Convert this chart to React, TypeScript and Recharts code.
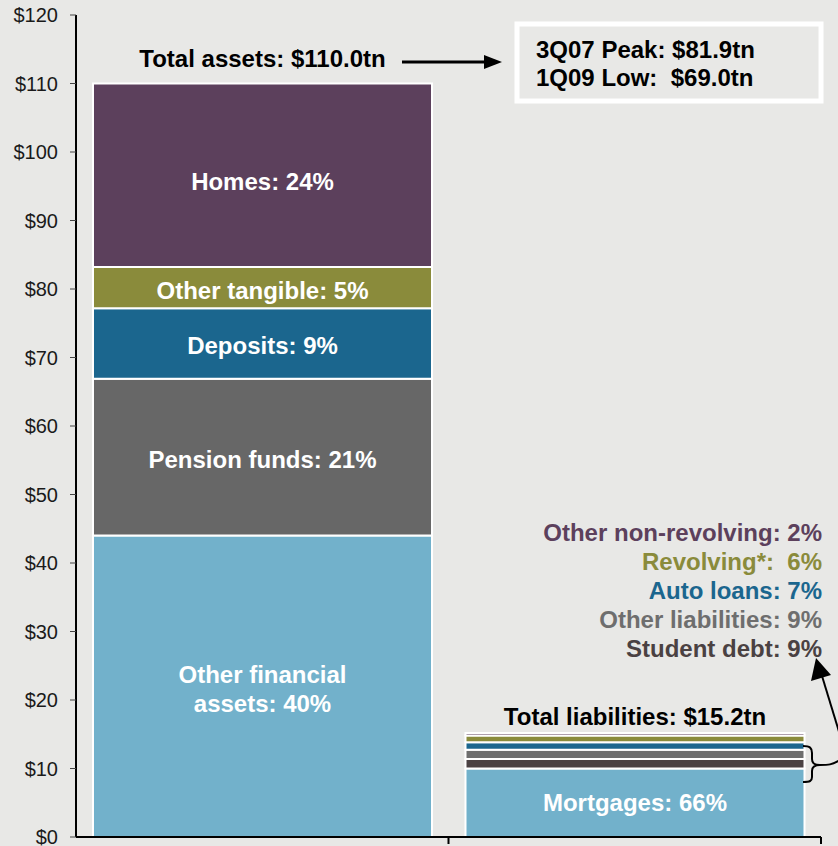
import React from "react";
import { BarChart, Bar, XAxis, YAxis, LabelList } from "recharts";

const categories = ["Assets", "Liabilities"];

const assetKeys = ["otherFinancial", "pension", "deposits", "otherTangible", "homes"];
const assetValues = [44.0, 22.9, 10.3, 6.0, 26.8];
const assetLabels = [
  "Other financial\nassets: 40%",
  "Pension funds: 21%",
  "Deposits: 9%",
  "Other tangible: 5%",
  "Homes: 24%",
];
const assetColors = ["#72b1cb", "#676767", "#1b668e", "#8a8b3b", "#5c405c"];

const liabilityKeys = [
  "mortgages",
  "studentDebt",
  "otherLiabilities",
  "autoLoans",
  "revolving",
  "otherNonRevolving",
];
const liabilityValues = [10.0, 1.4, 1.35, 1.1, 0.95, 0.4];
const liabilityLabels = [
  "Mortgages: 66%",
  "Student debt: 9%",
  "Other liabilities: 9%",
  "Auto loans: 7%",
  "Revolving*:  6%",
  "Other non-revolving: 2%",
];
const liabilityColors = ["#72b1cb", "#4a4142", "#6e6e6e", "#1b668e", "#8a8b3b", "#5c405c"];

const totalLabels = ["Total assets: $110.0tn", "Total liabilities: $15.2tn"];
const yTicks = [0, 10, 20, 30, 40, 50, 60, 70, 80, 90, 100, 110, 120];
const peakLines = ["3Q07 Peak: $81.9tn", "1Q09 Low:  $69.0tn"];

const W = 838;
const H = 846;
const M = { top: 15, right: 17, left: 0, bottom: 0 };
const Y_W = 76;
const X_H = 9;
const BAND = (W - M.right - Y_W) / categories.length;
const PLOT_BOTTOM = H - X_H;
const FONT = '"Liberation Sans", Arial, sans-serif';
const BG = "#e8e8e6";
const FS = 24;

// one row per category, only that side's keys are filled
const data = categories.map((name, i) => {
  const row: Record<string, any> = { name };
  if (i === 0) assetKeys.forEach((k, j) => (row[k] = assetValues[j]));
  else liabilityKeys.forEach((k, j) => (row[k] = liabilityValues[j]));
  return row;
});

const inside = (label: string, shift = 3) => (props: any) => {
  const { x, y, width, height, value } = props;
  if (value == null || !height) return null;
  const lines = label.split("\n");
  const cx = x + width / 2;
  const cy = y + height / 2 + shift;
  const lh = 29;
  const y0 = cy - ((lines.length - 1) * lh) / 2 + 8;
  return (
    <text textAnchor="middle" fill="#fff" fontSize={FS} fontWeight={700} fontFamily={FONT}>
      {lines.map((l, i) => (
        <tspan key={i} x={cx} y={y0 + i * lh}>
          {l}
        </tspan>
      ))}
    </text>
  );
};

const total = (label: string, dy: number) => (props: any) => {
  const { x, y, width, value } = props;
  if (value == null) return null;
  return (
    <text
      x={x + width / 2}
      y={y - dy}
      textAnchor="middle"
      fill="#000"
      fontSize={FS}
      fontWeight={700}
      fontFamily={FONT}
    >
      {label}
    </text>
  );
};

const BoundaryTick = (props: any) => {
  const { x } = props;
  return <line x1={x + BAND / 2} y1={PLOT_BOTTOM} x2={x + BAND / 2} y2={PLOT_BOTTOM + 7} stroke="#000" strokeWidth={2} />;
};

function Overlay() {
  const legend = liabilityLabels
    .map((l, i) => ({ l, c: liabilityColors[i] }))
    .slice(1)
    .reverse();
  return (
    <svg width={W} height={H} style={{ position: "absolute", left: 0, top: 0, pointerEvents: "none" }}>
      {/* arrow to peak box */}
      <line x1={402} y1={62} x2={486} y2={62} stroke="#000" strokeWidth={3} />
      <path d="M484,55 L502,62 L484,69 z" fill="#000" />
      <rect x={517} y={24} width={304} height={77} fill={BG} stroke="#fff" strokeWidth={5} />
      {peakLines.map((t, i) => (
        <text
          key={i}
          x={536}
          y={58 + i * 28}
          fontSize={FS}
          fontWeight={700}
          fontFamily={FONT}
          fill="#000"
          style={{ whiteSpace: "pre" }}
        >
          {t}
        </text>
      ))}
      {legend.map((d, i) => (
        <text
          key={i}
          x={822}
          y={541 + i * 29}
          textAnchor="end"
          fontSize={FS}
          fontWeight={700}
          fontFamily={FONT}
          fill={d.c}
          style={{ whiteSpace: "pre" }}
        >
          {d.l}
        </text>
      ))}
      {/* brace and pointer */}
      <path
        d="M803,746 C810,746 812,748 812,753 L812,759 C812,764 815,765 820,765 C815,765 812,767 812,771 L812,777 C812,781 810,782 803,782"
        fill="none"
        stroke="#000"
        strokeWidth={2}
      />
      <path d="M820,765 C828,765 832,765 840,760" fill="none" stroke="#000" strokeWidth={2} />
      <line x1={840} y1={735} x2={822} y2={676} stroke="#000" strokeWidth={2} />
      <path d="M816,658 L811,681 L831,675 z" fill="#000" />
    </svg>
  );
}

export default function App() {
  return (
    <div style={{ position: "absolute", left: 0, top: 0, width: W, height: H, background: BG, fontFamily: FONT, overflow: "hidden" }}>
      <BarChart width={W} height={H} data={data} margin={M} barSize={339}>
        <XAxis
          dataKey="name"
          height={X_H}
          axisLine={{ stroke: "#000", strokeWidth: 2 }}
          tickLine={false}
          tick={<BoundaryTick />}
          interval={0}
        />
        <YAxis
          type="number"
          domain={[0, 120]}
          ticks={yTicks}
          interval={0}
          width={Y_W}
          tickFormatter={(v: number) => `$${v}`}
          axisLine={{ stroke: "#000", strokeWidth: 2 }}
          tickLine={{ stroke: "#444" }}
          tickSize={6}
          tickMargin={12}
          tick={{ fontSize: 20, fill: "#1a1a1a", fontFamily: FONT }}
          allowDataOverflow
        />
        {assetKeys.map((k, i) => (
          <Bar key={k} dataKey={k} stackId="a" fill={assetColors[i]} stroke="#fff" strokeWidth={2} isAnimationActive={false}>
            <LabelList dataKey={k} content={inside(assetLabels[i], i === 4 ? 7 : 3)} />
            {i === assetKeys.length - 1 && <LabelList dataKey={k} content={total(totalLabels[0], 17)} />}
          </Bar>
        ))}
        {liabilityKeys.map((k, i) => (
          <Bar key={k} dataKey={k} stackId="a" fill={liabilityColors[i]} stroke="#fff" strokeWidth={2} isAnimationActive={false}>
            {i === 0 && <LabelList dataKey={k} content={inside(liabilityLabels[0], 0)} />}
            {i === liabilityKeys.length - 1 && <LabelList dataKey={k} content={total(totalLabels[1], 8)} />}
          </Bar>
        ))}
      </BarChart>
      <Overlay />
    </div>
  );
}
